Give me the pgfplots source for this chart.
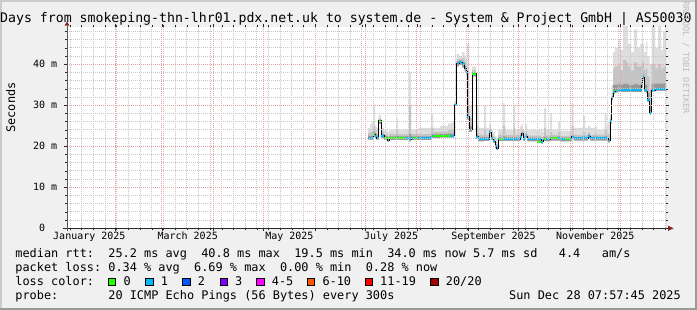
\documentclass[border=0pt]{standalone}
\usepackage{pgfplots}
\pgfplotsset{compat=1.18}
\usepackage{pgfplotstable}
\usepackage{fontspec}
\setmainfont{DejaVu Sans Mono}
\setmonofont{DejaVu Sans Mono}
\definecolor{bgc}{HTML}{F0F0F0}
\definecolor{shadea}{HTML}{CBCBCB}
\definecolor{shadeb}{HTML}{9A9A9A}
\definecolor{gridc}{HTML}{C8C8C8}
\definecolor{mgridc}{HTML}{EDA0A0}
\definecolor{axiscol}{HTML}{2A2A2A}
\definecolor{arrowc}{HTML}{7F1F1F}
\definecolor{wmc}{HTML}{BBBBBB}
\definecolor{smokeL}{HTML}{DEDEDE}
\definecolor{smokeM}{HTML}{C4C4C4}
\definecolor{smokeK}{HTML}{989898}
\definecolor{lossA}{HTML}{26FF00}
\definecolor{lossB}{HTML}{00B8FF}
\definecolor{lossC}{HTML}{0059FF}
\definecolor{lossD}{HTML}{7E00FF}
\definecolor{lossE}{HTML}{FF00FF}
\definecolor{lossF}{HTML}{FF5500}
\definecolor{lossG}{HTML}{FF0000}
\definecolor{lossH}{HTML}{A10000}
\newcommand\lf{\fontsize{11.88}{14}\selectfont\frenchspacing}

\pgfplotstableread{
x med mx md dk mn
182.7 22.0 24.5 23.2 22.6 21.6
183.9 21.9 25.5 23.5 22.5 21.5
185.1 22.0 26.0 24.0 22.6 21.6
185.9 22.9 30.2 25.0 23.5 22.3
186.9 22.6 25.0 23.8 23.1 22.0
187.8 22.0 24.5 23.0 22.5 21.5
189.0 26.2 27.6 26.8 26.5 25.5
190.5 22.6 24.5 23.5 23.0 22.0
192.3 22.0 24.0 23.0 22.5 21.5
194.4 21.4 23.5 22.5 21.9 21.0
195.3 22.0 24.0 23.0 22.4 21.5
198.9 22.0 24.0 23.0 22.4 21.5
199.8 22.0 26.8 24.0 22.6 21.5
200.7 22.0 24.0 22.9 22.4 21.5
207.3 21.8 38.2 30.0 23.0 21.2
208.5 22.0 24.0 23.0 22.4 21.5
212.7 22.0 24.5 23.0 22.4 21.5
220.5 22.5 28.0 24.5 23.0 22.0
221.7 22.5 24.5 23.5 22.9 22.0
225.9 22.6 25.0 23.6 23.0 22.1
230.7 22.6 25.6 24.0 23.1 22.1
233.1 22.6 26.0 24.0 23.1 22.1
234.5 30.2 31.0 30.6 30.4 29.8
235.8 40.2 42.5 41.3 40.7 39.5
237.3 40.5 42.0 41.3 40.9 39.8
239.1 40.0 43.0 41.5 40.6 39.2
240.6 39.0 42.0 40.5 39.6 38.2
241.5 38.2 41.0 39.5 38.8 37.5
242.1 27.2 45.0 38.0 30.0 26.5
243.3 24.1 30.0 27.0 25.0 23.5
245.1 37.7 39.5 38.6 38.1 37.0
247.5 22.3 30.0 25.0 23.0 21.8
248.7 21.7 24.5 22.8 22.2 21.2
252.3 21.8 30.0 24.0 22.3 21.3
253.5 21.8 24.5 22.8 22.2 21.3
255.3 23.5 25.5 24.3 23.9 23.0
256.5 22.0 24.0 22.9 22.4 21.5
257.7 21.3 23.5 22.2 21.7 20.8
258.9 20.0 22.5 21.0 20.4 19.5
259.8 19.5 22.0 20.5 19.9 19.0
260.7 21.8 24.0 22.8 22.2 21.3
263.7 21.8 30.5 25.0 22.4 21.3
264.9 21.8 24.0 22.7 22.2 21.3
269.7 21.8 30.0 24.5 22.3 21.3
270.9 21.8 24.0 22.7 22.2 21.3
273.9 22.3 25.0 23.2 22.7 21.8
274.8 23.1 25.5 24.0 23.5 22.6
275.7 21.8 24.0 22.7 22.2 21.3
276.9 22.5 25.5 23.5 22.9 22.0
278.1 21.7 24.0 22.6 22.1 21.2
286.5 21.1 24.0 22.3 21.6 20.6
287.7 21.8 23.5 22.5 22.2 21.3
288.3 21.8 29.3 24.5 22.3 21.3
289.5 21.7 24.0 22.6 22.1 21.2
291.9 21.9 28.0 23.5 22.3 21.4
293.1 21.95 24.0 22.8 22.3 21.4
296.7 21.95 26.0 23.5 22.4 21.4
297.9 21.7 23.8 22.5 22.1 21.2
304.8 22.3 30.5 25.0 22.8 21.8
306.0 21.95 24.5 22.8 22.3 21.4
311.7 21.95 27.5 23.5 22.4 21.4
312.9 21.95 24.5 22.8 22.3 21.4
314.7 22.5 25.0 23.4 22.9 22.0
315.9 21.95 24.5 22.8 22.3 21.4
318.9 21.95 24.8 23.0 22.4 21.4
320.1 21.95 24.0 22.8 22.3 21.4
324.6 21.95 28.0 24.0 22.4 21.4
325.8 21.95 24.5 22.9 22.3 21.4
326.7 21.4 26.0 23.0 21.9 20.9
327.9 26.2 28.0 27.0 26.6 25.5
328.8 31.9 35.0 33.0 32.3 31.2
329.7 33.3 43.0 39.0 35.0 32.8
330.9 33.6 44.0 39.5 35.0 33.1
332.7 33.7 46.0 40.0 35.2 33.2
333.9 33.7 43.5 38.5 35.0 33.2
335.7 33.7 49.5 41.0 35.3 33.2
337.5 33.7 49.5 40.5 35.2 33.2
338.7 33.7 45.0 39.5 35.0 33.2
340.5 33.7 43.0 38.5 35.0 33.2
342.3 33.7 48.5 40.5 35.2 33.2
344.1 33.7 44.0 39.5 35.0 33.2
345.9 33.7 45.0 39.5 35.1 33.2
346.9 34.9 46.0 40.5 36.0 34.3
347.5 36.9 45.0 40.5 37.5 36.3
348.3 33.7 43.0 38.5 35.0 33.2
349.5 33.5 45.5 39.0 35.0 33.0
350.3 31.3 42.0 37.0 33.0 30.8
351.5 28.2 40.0 34.0 30.0 27.7
352.8 33.7 49.5 40.0 35.2 33.2
354.9 34.0 44.0 39.0 35.3 33.5
356.7 34.0 49.5 40.0 35.3 33.5
358.5 34.0 43.5 39.0 35.3 33.5
359.7 34.0 48.0 39.5 35.3 33.5
361.4 34.0 48.0 39.5 35.3 33.5
}\smoke

\begin{document}
\begin{tikzpicture}[x=1pt,y=1pt]
\useasboundingbox (0,0) rectangle (697,310);
\fill[bgc] (0,0) rectangle (697,310);
\fill[shadea] (0,308) rectangle (697,310);
\fill[shadea] (0,0) rectangle (2,310);
\fill[shadeb] (0,0) rectangle (697,2);
\fill[shadeb] (695,0) rectangle (697,310);

\begin{axis}[
  at={(67pt,81.7pt)}, anchor=south west,
  scale only axis, width=599pt, height=201.3pt,
  xmin=2.1, xmax=361.4, ymin=0, ymax=49.1,
  axis background/.style={fill=white},
  axis line style={draw=none},
  axis on top,
  xtick={31,59,90,120,151,181,212,243,273,304,334},
  xticklabels={},
  minor xtick={4,11,...,361},
  ytick={0,10,20,30,40},
  yticklabels={0\hphantom{~m},10~m,20~m,30~m,40~m},
  minor ytick={2,4,...,48},
  grid=both,
  major grid style={draw=mgridc, dash pattern=on 1pt off 1pt, line width=0.9pt},
  minor grid style={draw=gridc, dash pattern=on 1pt off 1pt, line width=0.9pt},
  tick align=outside,
  major tick length=3pt, minor tick length=2pt,
  tick style={draw=axiscol, line width=0.7pt, solid},
  extra x ticks={15.5,74.5,135.5,196.5,258,319},
  extra x tick labels={January 2025,March 2025,May 2025,July 2025,September 2025,November 2025},
  extra x tick style={grid=none, major tick length=0pt,
     xticklabel style={anchor=base, inner sep=0pt, yshift=-11.7pt}},
  tick label style={font=\fontsize{10}{12}\selectfont},
  yticklabel style={anchor=east, inner sep=0pt, xshift=-6.7pt},
  /pgf/number format/assume math mode=true,
]
\addplot[const plot mark left, fill=smokeL, draw=none] table[x=x,y=mx]{\smoke} \closedcycle;
\addplot[const plot mark left, fill=smokeM, draw=none] table[x=x,y=md]{\smoke} \closedcycle;
\addplot[const plot mark left, fill=smokeK, draw=none] table[x=x,y=dk]{\smoke} \closedcycle;
\addplot[const plot mark left, fill=white, draw=none] table[x=x,y=mn]{\smoke} \closedcycle;
\addplot[const plot mark left, black, line width=0.8pt] table[x=x,y=med]{\smoke};
\addplot[jump mark left, lossB, line width=1.8pt] table[x=x,y=med]{\smoke};
\addplot[sharp plot, unbounded coords=jump, lossA, line width=1.8pt] coordinates {
 (185.9,22.9) (186.9,22.9) (186.9,nan)
 (189.0,26.2) (190.5,26.2) (190.5,nan)
 (192.3,22.0) (194.4,22.0) (194.4,nan)
 (195.3,22.0) (199.8,22.0) (199.8,nan)
 (200.7,22.0) (205.0,22.0) (205.0,nan)
 (209.5,22.0) (212.7,22.0) (212.7,nan)
 (221.7,22.5) (225.9,22.5) (225.9,nan)
 (225.9,22.6) (232.0,22.6) (232.0,nan)
 (245.1,37.7) (247.5,37.7) (247.5,nan)
 (261.5,21.8) (263.7,21.8) (263.7,nan)
 (284.0,21.1) (286.5,21.1) (286.5,nan)
 (288.3,21.8) (289.5,21.8) (289.5,nan)
 (291.9,21.9) (293.1,21.9) (293.1,nan)
 (293.1,21.95) (296.7,21.95) (296.7,nan)
 (300.9,21.7) (303.9,21.7) (303.9,nan)
 (330.9,33.6) (331.8,33.6)
};
\end{axis}

% axis lines and arrows
\draw[axiscol, line width=1pt] (63,81.7) -- (668.5,81.7);
\fill[arrowc] (668,84.3) -- (673.5,81.7) -- (668,79.1) -- cycle;
\draw[axiscol!80, line width=1pt] (67,79) -- (67,284);
\fill[arrowc] (64.5,284.3) -- (67,288.5) -- (69.5,284.3) -- cycle;

% title
\node[anchor=base west, inner sep=0pt] at (0,287) {\fontsize{13.2}{16}\selectfont Days from smokeping-thn-lhr01.pdx.net.uk to system.de - System \& Project GmbH | AS50030};
% y label
\node[rotate=90, inner sep=0pt] at (10.8,202.5) {\lf Seconds};
% watermark
\node[rotate=-90, inner sep=0pt, text=wmc] at (686,252.5) {\fontsize{8.5}{10}\selectfont RRDTOOL / TOBI OETIKER};

% legend
\node[anchor=base west, inner sep=0pt] at (15.2,52) {\lf median rtt:~~25.2 ms avg~~40.8 ms max~~19.5 ms min~~34.0 ms now~5.7 ms sd~~~4.4~~~am/s};
\node[anchor=base west, inner sep=0pt] at (15.2,38) {\lf packet loss:~0.34 \% avg~~6.69 \% max~~0.00 \% min~~0.28 \% now};
\node[anchor=base west, inner sep=0pt] at (15.2,24) {\lf loss color:};
\node[anchor=base west, inner sep=0pt] at (15.2,10) {\lf probe:~~~~~~~20 ICMP Echo Pings (56 Bytes) every 300s};
\node[anchor=base east, inner sep=0pt] at (681,10) {\lf Sun Dec 28 07:57:45 2025};

\foreach \bx/\col/\lab in {108.3/lossA/0, 145.7/lossB/1, 182.7/lossC/2, 220/lossD/3, 256.7/lossE/4-5, 307.3/lossF/6-10, 365/lossG/11-19, 430.7/lossH/{20/20}}{
  \filldraw[fill=\col, draw=black, line width=0.8pt] (\bx,24.3) rectangle ++(7.4,7.4);
  \node[anchor=base west, inner sep=0pt] at (\bx+15,24) {\lf \lab};
}
\end{tikzpicture}
\end{document}
